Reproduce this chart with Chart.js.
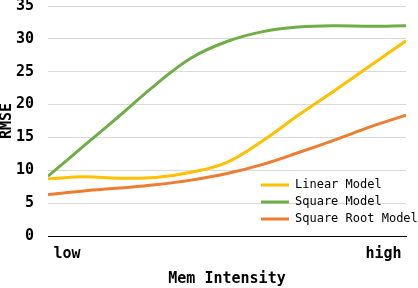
<!DOCTYPE html>
<html>
<head>
<meta charset="utf-8">
<script src="https://cdn.jsdelivr.net/npm/chart.js@4"></script>
<style>
  html, body { margin: 0; padding: 0; background: #fff; }
  #wrap { width: 418px; height: 288px; }
</style>
</head>
<body>
<div id="wrap"><canvas id="rmseChart"></canvas></div>
<script>
"use strict";

// values, 11 steps from low to high
const steps = [0, 1, 2, 3, 4, 5, 6, 7, 8, 9, 10];
const linearModel = [8.7, 9.0, 8.8, 8.9, 9.7, 11.2, 14.5, 18.4, 22.1, 25.9, 29.7];
const squareModel = [9.1, 13.7, 18.3, 23.0, 27.1, 29.6, 31.1, 31.8, 32.0, 31.9, 32.0];
const squareRootModel = [6.3, 6.85, 7.3, 7.8, 8.5, 9.5, 10.9, 12.7, 14.6, 16.6, 18.4];

const xTickLabels = ["low", "high"];
const xTickSpots = [0.53, 9.37];

const FONT = "'DejaVu Sans Mono', 'Liberation Mono', monospace";

function toPoints(values) {
  return values.map((v, i) => ({ x: steps[i], y: v }));
}

function series(label, values, color) {
  return {
    label: label,
    data: toPoints(values),
    borderColor: color,
    backgroundColor: color,
    borderWidth: 3,
    pointRadius: 0,
    tension: 0.4,
    fill: false,
  };
}

// move the legend inside the plot, bottom right
const legendInside = {
  id: "legendInside",
  afterLayout(chart) {
    const lg = chart.legend;
    if (!lg) return;
    const w = lg.width, h = lg.height;
    lg.left = 256;
    lg.top = 174;
    lg.right = lg.left + w;
    lg.bottom = lg.top + h;
  },
};

const chart = new Chart(document.getElementById("rmseChart"), {
  type: "line",
  data: {
    datasets: [
      series("Linear Model", linearModel, "#FFC000"),
      series("Square Model", squareModel, "#70AD47"),
      series("Square Root Model", squareRootModel, "#ED7D31"),
    ],
  },
  options: {
    responsive: true,
    maintainAspectRatio: false,
    animation: false,
    layout: { padding: { left: 0, right: 12, top: 6, bottom: 0 } },
    scales: {
      x: {
        type: "linear",
        min: steps[0],
        max: steps[steps.length - 1],
        grid: { display: false },
        border: { display: true, color: "#000", width: 1 },
        afterBuildTicks(scale) {
          scale.ticks = xTickSpots.map((v) => ({ value: v }));
        },
        afterFit(scale) {
          scale.height = 52;
          scale.paddingLeft = 0;
          scale.paddingRight = 0;
        },
        ticks: {
          autoSkip: false,
          maxRotation: 0,
          padding: 1,
          color: "#000",
          font: { family: FONT, size: 15, weight: "bold" },
          callback: (v) => xTickLabels[xTickSpots.indexOf(v)],
        },
        title: {
          display: true,
          text: "Mem Intensity",
          color: "#000",
          font: { family: FONT, size: 15, weight: "bold", lineHeight: 1 },
          padding: { top: 0, bottom: 1 },
        },
      },
      y: {
        min: 0,
        max: 35,
        grid: { color: "#d9d9d9", lineWidth: 1, drawTicks: false },
        border: { display: false },
        afterFit(scale) {
          scale.width = 48;
          scale.paddingTop = 0;
          scale.paddingBottom = 0;
        },
        ticks: {
          stepSize: 5,
          padding: 14,
          color: "#000",
          font: { family: FONT, size: 15, weight: "bold" },
        },
        title: {
          display: true,
          text: "RMSE",
          color: "#000",
          font: { family: FONT, size: 15, weight: "bold", lineHeight: 1 },
          padding: { top: 0, bottom: 0 },
        },
      },
    },
    plugins: {
      legend: {
        position: "chartArea",
        align: "start",
        labels: {
          boxWidth: 28,
          boxHeight: 3,
          padding: 5,
          color: "#000",
          font: { family: FONT, size: 12 },
          generateLabels(chart) {
            return chart.data.datasets.map((ds, i) => ({
              text: ds.label,
              fillStyle: ds.borderColor,
              strokeStyle: ds.borderColor,
              lineWidth: 0,
              hidden: false,
              datasetIndex: i,
            }));
          },
        },
      },
      tooltip: { enabled: false },
    },
  },
  plugins: [legendInside],
});
</script>
</body>
</html>
